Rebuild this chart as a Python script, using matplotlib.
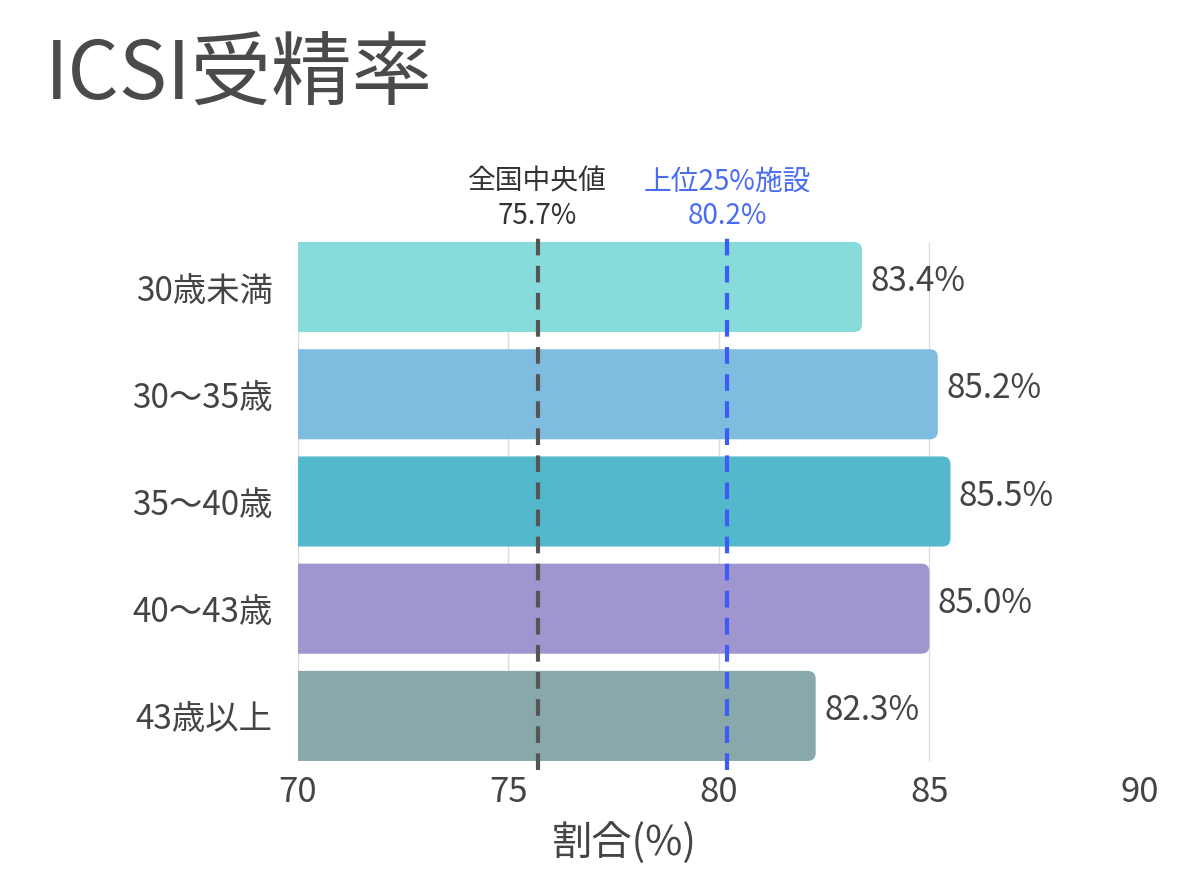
import matplotlib
matplotlib.use("Agg")
import matplotlib.pyplot as plt
from matplotlib.patches import FancyBboxPatch

plt.rcParams['font.family'] = ['Noto Sans CJK JP', 'DejaVu Sans']

# データ
categories = ['30歳未満', '30～35歳', '35～40歳', '40～43歳', '43歳以上']
values = [83.4, 85.2, 85.5, 85.0, 82.3]
colors = ['#88dbdb', '#7fbde0', '#53b8cc', '#9f95cf', '#88a8ab']
ref_values = [75.7, 80.2]
ref_names = ['全国中央値', '上位25%施設']
ref_colors = ['#555555', '#3d5cf5']
ref_text_colors = ['#333333', '#4a6cf0']
xticks = [70, 75, 80, 85, 90]

fig = plt.figure(figsize=(12, 8.71), dpi=100)
ax = fig.add_axes([0.248, 0.1165, 0.702, 0.6155])

x0 = xticks[0]
h = 0.84
ax.set_xlim(xticks[0], xticks[-1])
ax.set_ylim(len(categories) - 0.5, -0.5)

# 角丸用 (px / 単位)
px_x = 842 / (xticks[-1] - xticks[0])
px_y = 536 / len(categories)
r = 8 / px_x

for i, (v, c) in enumerate(zip(values, colors)):
    # 左端は軸の外から始めて角丸を隠す
    box = FancyBboxPatch((x0 - 1, i - h / 2), v - x0 + 1, h,
                         boxstyle=f"round,pad=0,rounding_size={r}",
                         mutation_aspect=px_x / px_y,
                         facecolor=c, edgecolor='none', zorder=2)
    ax.add_patch(box)
    ax.text(v + 0.2, i - 0.05, f'{v:.1f}%', va='center', ha='left',
            fontsize=24, color='#444444')

# グリッド
ax.vlines(xticks[:-1], -0.42, len(categories) - 0.58, colors='#dddddd',
          linewidth=1, zorder=1)

# 参照線
for rv, name, lc, tc in zip(ref_values, ref_names, ref_colors, ref_text_colors):
    ax.axvline(rv, color=lc, linestyle=(0, (4, 2.5)), linewidth=3, zorder=3)
    ax.text(rv, -0.52, f'{name}\n{rv:.1f}%', ha='center', va='bottom',
            fontsize=20, color=tc, linespacing=1.2)

ax.set_yticks(range(len(categories)))
ax.set_yticklabels(categories, fontsize=24, color='#444444')
ax.set_xticks(xticks)
ax.set_xticklabels([str(t) for t in xticks], fontsize=25, color='#444444')
ax.tick_params(axis='y', length=0, pad=18)
ax.tick_params(axis='x', length=0, pad=4)
for s in ax.spines.values():
    s.set_visible(False)

ax.set_xlabel('割合(%)', fontsize=29, color='#444444', va='center')
ax.xaxis.set_label_coords(0.388, -0.138)

fig.text(0.037, 0.885, 'ICSI受精率', fontsize=58, color='#4a4a4a',
         ha='left', va='baseline')

fig.savefig('out.png', dpi=100)
